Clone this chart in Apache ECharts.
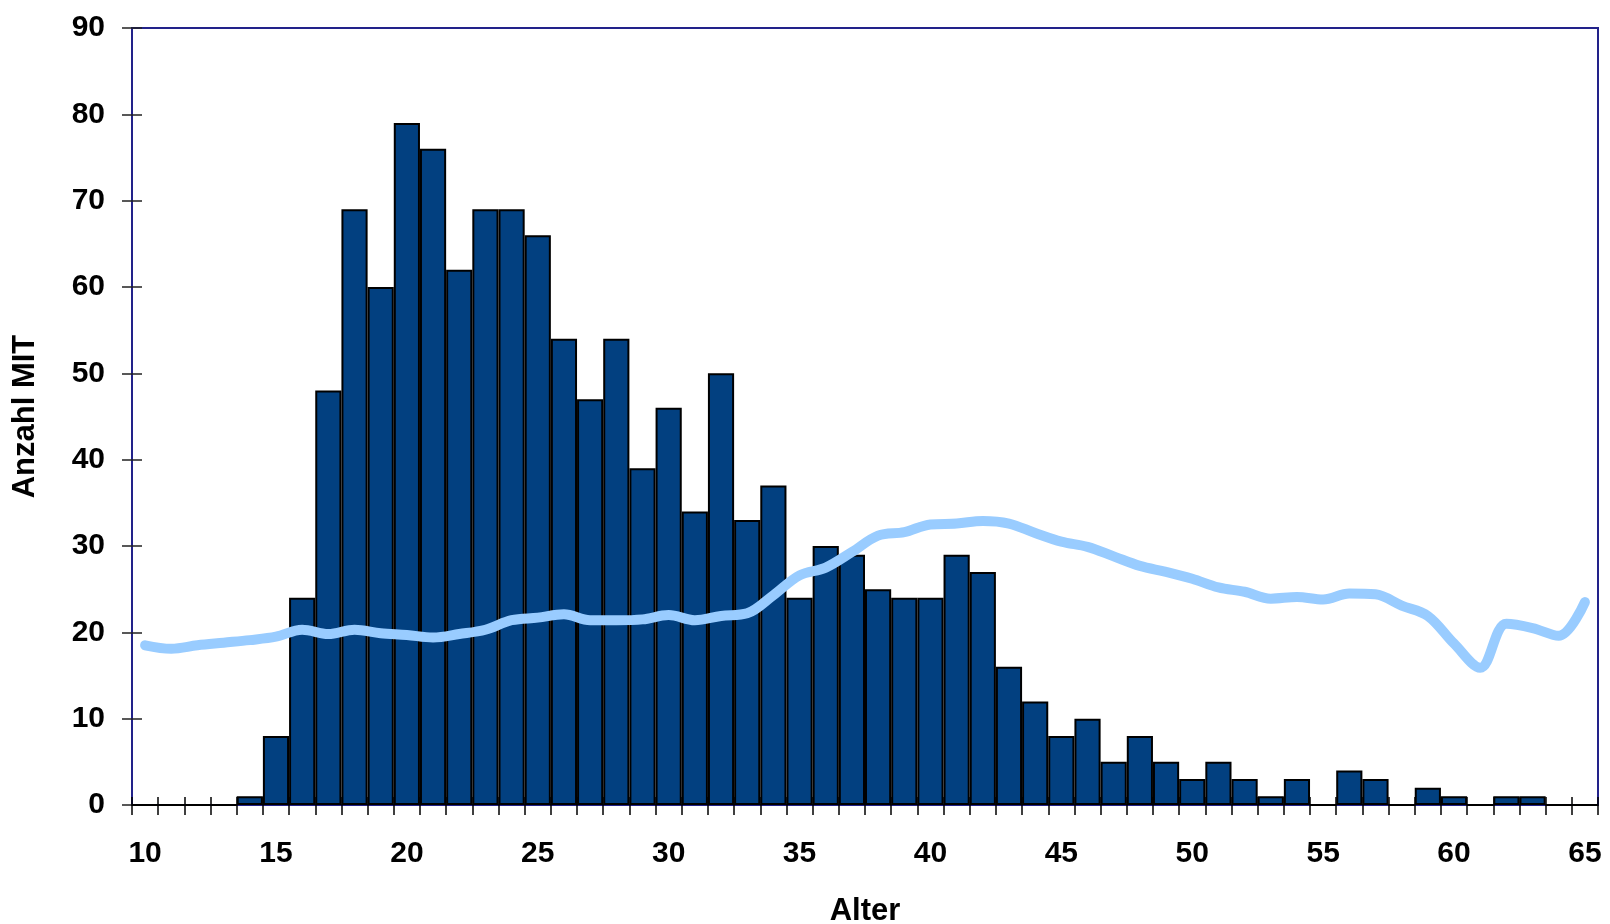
<!DOCTYPE html>
<html>

<head>
    <meta charset="UTF-8" />
    <title>Anzahl MIT nach Alter</title>
    <script src="https://cdn.jsdelivr.net/npm/echarts@6/dist/echarts.min.js"></script>
    <style>
        html, body { margin: 0; padding: 0; background: #fff; }
        #A { width: 1610px; height: 924px; }
    </style>
</head>

<body>
    <div id="A"></div>
    <script>
        // Alter 10 .. 65
        var ages = [];
        for (var a = 10; a <= 65; a++) ages.push(String(a));

        // Anzahl MIT je Alter (Balken)
        var counts = [
            0, 0, 0, 0, 1, 8, 24, 48, 69, 60,
            79, 76, 62, 69, 69, 66, 54, 47, 54, 39,
            46, 34, 50, 33, 37, 24, 30, 29, 25, 24,
            24, 29, 27, 16, 12, 8, 10, 5, 8, 5,
            3, 5, 3, 1, 3, 0, 4, 3, 0, 2,
            1, 0, 1, 1, 0, 0
        ];

        // hellblaue Kurve
        var curve = [
            18.5, 18.1, 18.5, 18.8, 19.1, 19.5, 20.3, 19.8, 20.3, 19.9,
            19.7, 19.4, 19.8, 20.3, 21.4, 21.7, 22.1, 21.4, 21.4, 21.5,
            22.0, 21.4, 21.9, 22.2, 24.3, 26.6, 27.5, 29.3, 31.2, 31.6,
            32.5, 32.6, 32.9, 32.6, 31.5, 30.5, 29.9, 28.8, 27.7, 27.0,
            26.2, 25.2, 24.7, 23.9, 24.1, 23.8, 24.5, 24.4, 23.1, 21.9,
            18.7, 15.9, 21.0, 20.5, 19.6, 23.5
        ];

        var navy = '#22228a';
        var font = 'Liberation Sans, Arial, sans-serif';

        var myChart = echarts.init(document.getElementById('A'));
        var option = {
            animation: false,
            grid: {
                left: 132, right: 12, top: 28, bottom: 119,
                outerBoundsMode: 'none',
                show: true, borderColor: navy, borderWidth: 2
            },
            xAxis: [
                {
                    type: 'category',
                    data: ages,
                    name: 'Alter',
                    nameLocation: 'middle',
                    nameGap: 91,
                    nameTextStyle: { fontFamily: font, fontWeight: 'bold', fontSize: 31, color: '#000' },
                    axisLine: { lineStyle: { color: navy, width: 2 } },
                    axisTick: { show: true, interval: 0, length: 10, lineStyle: { color: '#000', width: 1.5 } },
                    axisLabel: { interval: 4, margin: 34, fontFamily: font, fontWeight: 'bold', fontSize: 30, color: '#000' },
                    splitLine: { show: false }
                },
                {
                    // nur fuer die innen liegenden Tick-Striche
                    type: 'category',
                    data: ages,
                    position: 'bottom',
                    axisLine: { show: false },
                    axisTick: { show: true, inside: true, interval: 0, length: 8, lineStyle: { color: '#000', width: 1.5 } },
                    axisLabel: { show: false },
                    splitLine: { show: false }
                }
            ],
            yAxis: [
                {
                    type: 'value',
                    min: 0, max: 90, interval: 10,
                    name: 'Anzahl MIT',
                    nameLocation: 'middle',
                    nameGap: 91,
                    nameTextStyle: { fontFamily: font, fontWeight: 'bold', fontSize: 31, color: '#000' },
                    axisLine: { show: true, lineStyle: { color: navy, width: 2 } },
                    axisTick: { show: true, length: 10, lineStyle: { color: '#222', width: 1.5 } },
                    axisLabel: { margin: 27, fontFamily: font, fontWeight: 'bold', fontSize: 30, color: '#000' },
                    splitLine: { show: false }
                },
                {
                    type: 'value',
                    min: 0, max: 90, interval: 10,
                    position: 'left',
                    axisLine: { show: false },
                    axisTick: { show: true, inside: true, length: 10, lineStyle: { color: '#222', width: 1.5 } },
                    axisLabel: { show: false },
                    splitLine: { show: false }
                }
            ],
            series: [
                {
                    name: 'Anzahl MIT',
                    type: 'bar',
                    data: counts,
                    barCategoryGap: 0,
                    itemStyle: { color: '#024080', borderColor: '#000', borderWidth: 2 },
                    z: 2
                },
                {
                    name: 'Kurve',
                    type: 'line',
                    data: curve,
                    smooth: 0.35,
                    showSymbol: false,
                    symbol: 'none',
                    lineStyle: { color: '#99ccff', width: 10, cap: 'round' },
                    z: 3
                }
            ]
        };
        myChart.setOption(option);
    </script>
</body>

</html>
